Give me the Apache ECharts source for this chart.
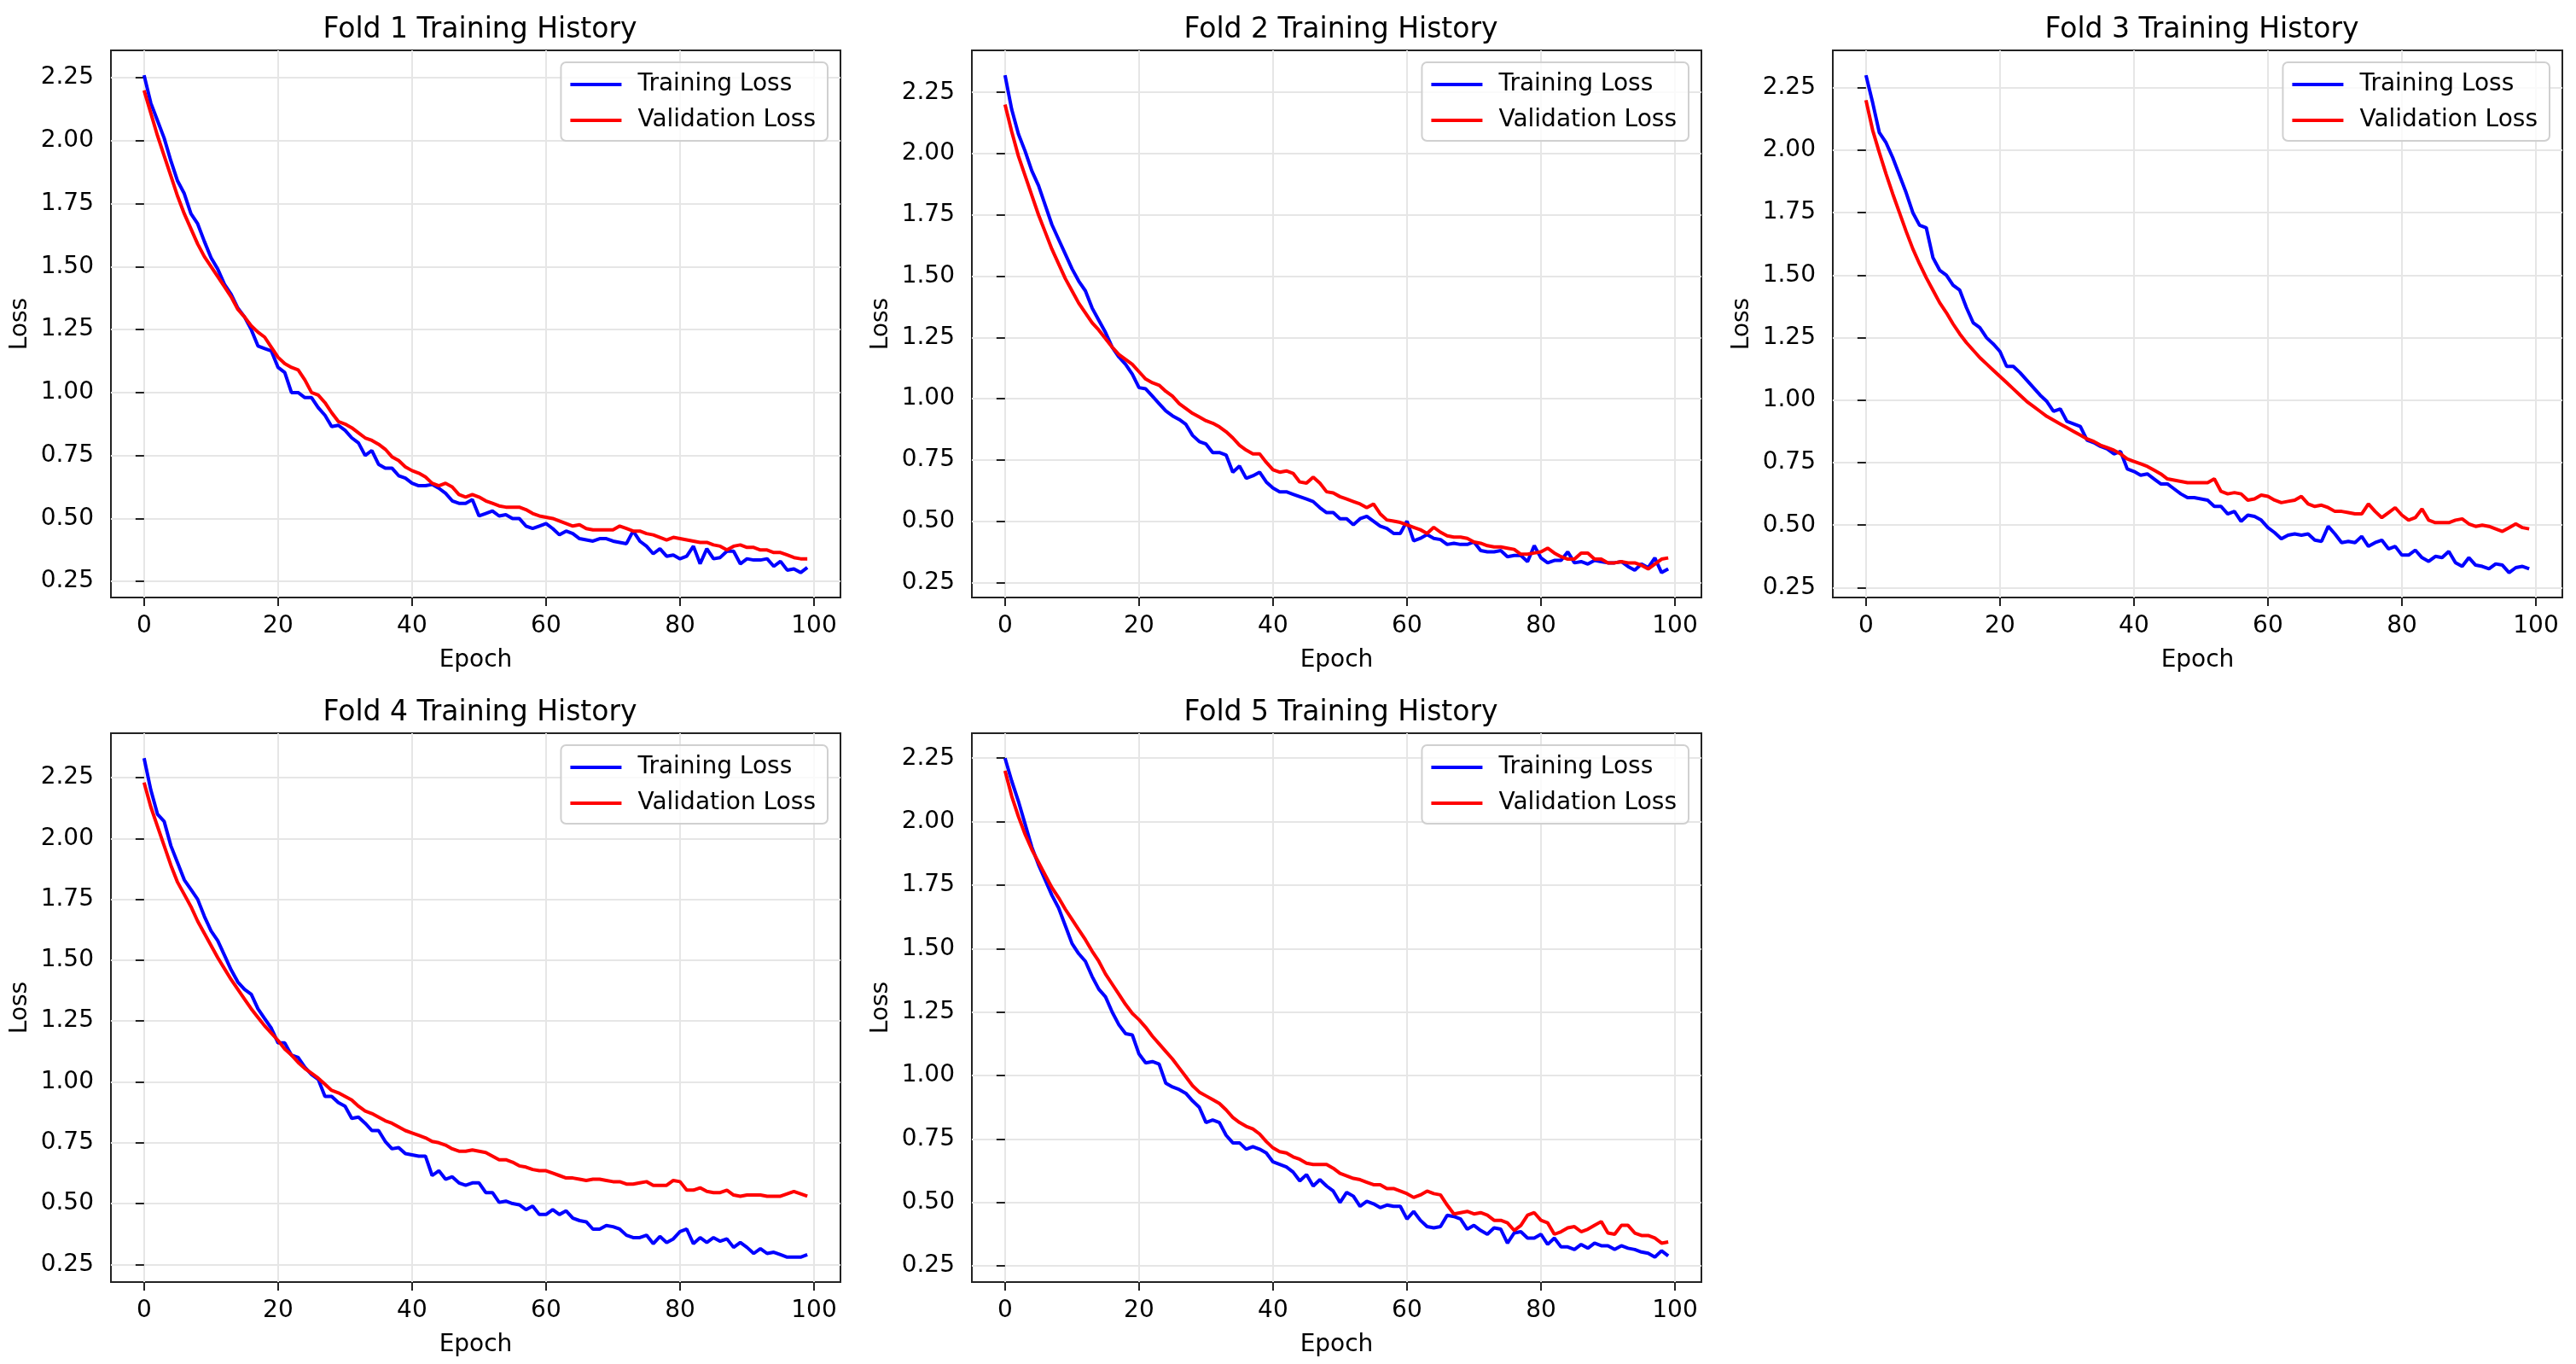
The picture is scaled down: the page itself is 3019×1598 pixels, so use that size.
<!DOCTYPE html>
<html><head><meta charset="utf-8">
<script src="https://cdn.jsdelivr.net/npm/echarts@6/dist/echarts.min.js"></script>
<style>html,body{margin:0;padding:0;background:#fff}#c{width:3019px;height:1598px}</style>
</head><body><div id="c"></div>
<script>
const epochTicks = [0, 20, 40, 60, 80, 100];
const lossTicks = [0.25, 0.5, 0.75, 1.0, 1.25, 1.5, 1.75, 2.0, 2.25];
const foldTitles = ['Fold 1 Training History','Fold 2 Training History','Fold 3 Training History','Fold 4 Training History','Fold 5 Training History'];

const fold1Train = [2.26,2.15,2.08,2.01,1.92,1.84,1.79,1.71,1.67,1.60,1.535,1.49,1.43,1.39,1.335,1.30,1.25,1.185,1.175,1.165,1.10,1.08,1.00,1.00,0.98,0.98,0.94,0.91,0.865,0.87,0.85,0.82,0.80,0.75,0.77,0.715,0.70,0.70,0.67,0.66,0.64,0.63,0.63,0.635,0.62,0.60,0.57,0.56,0.56,0.575,0.51,0.52,0.53,0.51,0.515,0.50,0.50,0.47,0.46,0.47,0.48,0.46,0.435,0.45,0.44,0.42,0.415,0.41,0.42,0.42,0.41,0.405,0.40,0.45,0.41,0.39,0.36,0.38,0.35,0.355,0.34,0.35,0.39,0.32,0.38,0.34,0.345,0.37,0.37,0.32,0.34,0.335,0.335,0.34,0.31,0.33,0.295,0.30,0.285,0.305];
const fold1Val = [2.20,2.11,2.02,1.94,1.86,1.78,1.71,1.65,1.59,1.54,1.50,1.46,1.42,1.38,1.33,1.30,1.265,1.24,1.22,1.18,1.14,1.115,1.10,1.09,1.05,1.00,0.99,0.96,0.92,0.885,0.875,0.86,0.84,0.82,0.81,0.795,0.775,0.745,0.73,0.705,0.69,0.68,0.665,0.64,0.63,0.64,0.625,0.595,0.585,0.595,0.585,0.57,0.56,0.55,0.545,0.545,0.545,0.535,0.52,0.51,0.505,0.50,0.49,0.48,0.47,0.475,0.46,0.455,0.455,0.455,0.455,0.47,0.46,0.45,0.45,0.44,0.435,0.425,0.415,0.425,0.42,0.415,0.41,0.405,0.405,0.395,0.39,0.375,0.39,0.395,0.385,0.385,0.375,0.375,0.365,0.365,0.355,0.345,0.34,0.34];
const fold2Train = [2.32,2.18,2.08,2.01,1.93,1.87,1.79,1.71,1.65,1.59,1.53,1.48,1.44,1.37,1.32,1.27,1.21,1.17,1.14,1.10,1.045,1.04,1.01,0.98,0.95,0.93,0.915,0.895,0.85,0.825,0.815,0.78,0.78,0.77,0.70,0.725,0.675,0.685,0.70,0.66,0.635,0.62,0.62,0.61,0.60,0.59,0.58,0.555,0.535,0.535,0.51,0.51,0.485,0.51,0.52,0.50,0.48,0.47,0.45,0.45,0.50,0.42,0.43,0.445,0.43,0.425,0.405,0.41,0.405,0.405,0.415,0.38,0.375,0.375,0.38,0.355,0.36,0.36,0.335,0.40,0.35,0.33,0.34,0.34,0.375,0.33,0.335,0.325,0.34,0.335,0.33,0.33,0.335,0.315,0.30,0.325,0.31,0.35,0.29,0.305];
const fold2Val = [2.20,2.09,1.99,1.91,1.83,1.75,1.68,1.61,1.55,1.49,1.44,1.39,1.35,1.31,1.28,1.245,1.21,1.18,1.16,1.14,1.11,1.08,1.065,1.055,1.03,1.01,0.98,0.96,0.94,0.925,0.91,0.90,0.885,0.865,0.84,0.81,0.79,0.775,0.775,0.74,0.71,0.70,0.705,0.695,0.66,0.655,0.68,0.655,0.62,0.615,0.60,0.59,0.58,0.57,0.555,0.57,0.53,0.505,0.50,0.495,0.485,0.475,0.465,0.45,0.475,0.455,0.44,0.435,0.435,0.43,0.415,0.41,0.40,0.395,0.395,0.39,0.385,0.365,0.365,0.37,0.375,0.39,0.37,0.355,0.345,0.345,0.37,0.37,0.345,0.345,0.33,0.33,0.335,0.33,0.33,0.32,0.305,0.325,0.345,0.35];
const fold3Train = [2.30,2.19,2.07,2.03,1.97,1.90,1.83,1.75,1.70,1.69,1.57,1.52,1.50,1.46,1.44,1.37,1.31,1.29,1.25,1.225,1.195,1.135,1.135,1.11,1.08,1.05,1.02,0.995,0.955,0.965,0.915,0.905,0.895,0.84,0.83,0.815,0.805,0.785,0.795,0.725,0.715,0.70,0.705,0.685,0.665,0.665,0.645,0.625,0.61,0.61,0.605,0.60,0.575,0.575,0.545,0.555,0.515,0.54,0.535,0.52,0.49,0.47,0.445,0.46,0.465,0.46,0.465,0.44,0.435,0.495,0.465,0.43,0.435,0.43,0.455,0.415,0.43,0.44,0.405,0.415,0.38,0.38,0.40,0.37,0.355,0.375,0.37,0.395,0.35,0.335,0.37,0.34,0.335,0.325,0.345,0.34,0.31,0.33,0.335,0.325];
const fold3Val = [2.20,2.08,1.99,1.905,1.825,1.75,1.675,1.605,1.545,1.49,1.44,1.39,1.35,1.305,1.265,1.23,1.20,1.17,1.145,1.12,1.095,1.07,1.045,1.02,0.995,0.975,0.955,0.935,0.92,0.905,0.89,0.875,0.86,0.845,0.835,0.82,0.81,0.80,0.785,0.765,0.755,0.745,0.735,0.72,0.705,0.685,0.68,0.675,0.67,0.67,0.67,0.67,0.685,0.635,0.625,0.63,0.625,0.60,0.605,0.62,0.615,0.60,0.59,0.595,0.60,0.615,0.585,0.575,0.58,0.57,0.555,0.555,0.55,0.545,0.545,0.585,0.555,0.53,0.55,0.57,0.54,0.52,0.53,0.565,0.52,0.51,0.51,0.51,0.52,0.525,0.505,0.495,0.50,0.495,0.485,0.475,0.49,0.505,0.49,0.485];
const fold4Train = [2.33,2.20,2.10,2.07,1.97,1.90,1.83,1.79,1.75,1.68,1.62,1.58,1.52,1.46,1.41,1.38,1.36,1.30,1.26,1.22,1.16,1.16,1.11,1.10,1.06,1.03,1.01,0.94,0.94,0.915,0.90,0.85,0.855,0.83,0.80,0.80,0.755,0.725,0.73,0.705,0.70,0.695,0.695,0.615,0.635,0.60,0.61,0.585,0.575,0.585,0.585,0.545,0.545,0.505,0.51,0.50,0.495,0.475,0.49,0.455,0.455,0.475,0.455,0.47,0.44,0.43,0.425,0.395,0.395,0.41,0.405,0.395,0.37,0.36,0.36,0.37,0.335,0.365,0.34,0.355,0.385,0.395,0.335,0.36,0.34,0.36,0.345,0.355,0.32,0.34,0.32,0.295,0.315,0.295,0.30,0.29,0.28,0.28,0.28,0.29];
const fold4Val = [2.23,2.13,2.05,1.97,1.89,1.82,1.77,1.72,1.66,1.61,1.56,1.51,1.465,1.42,1.38,1.34,1.30,1.265,1.23,1.20,1.17,1.135,1.11,1.08,1.055,1.035,1.015,0.99,0.965,0.955,0.94,0.925,0.90,0.88,0.87,0.855,0.84,0.83,0.815,0.80,0.79,0.78,0.77,0.755,0.75,0.74,0.725,0.715,0.715,0.72,0.715,0.71,0.695,0.68,0.68,0.67,0.655,0.65,0.64,0.635,0.635,0.625,0.615,0.605,0.605,0.60,0.595,0.60,0.60,0.595,0.59,0.59,0.58,0.58,0.585,0.59,0.575,0.575,0.575,0.595,0.59,0.555,0.555,0.565,0.55,0.545,0.545,0.555,0.535,0.53,0.535,0.535,0.535,0.53,0.53,0.53,0.54,0.55,0.54,0.53];
const fold5Train = [2.25,2.16,2.08,1.99,1.90,1.83,1.77,1.71,1.66,1.59,1.52,1.48,1.45,1.39,1.34,1.31,1.25,1.20,1.165,1.16,1.085,1.05,1.055,1.045,0.97,0.955,0.945,0.93,0.90,0.875,0.815,0.825,0.815,0.765,0.735,0.735,0.71,0.72,0.71,0.695,0.66,0.65,0.64,0.62,0.585,0.61,0.565,0.59,0.565,0.545,0.50,0.54,0.525,0.485,0.505,0.495,0.48,0.49,0.485,0.485,0.435,0.465,0.43,0.405,0.40,0.405,0.45,0.445,0.435,0.395,0.41,0.39,0.375,0.40,0.395,0.34,0.38,0.385,0.36,0.36,0.375,0.335,0.36,0.325,0.325,0.315,0.335,0.32,0.34,0.33,0.33,0.315,0.33,0.32,0.315,0.305,0.30,0.285,0.31,0.29];
const fold5Val = [2.20,2.10,2.02,1.95,1.89,1.84,1.79,1.74,1.70,1.655,1.615,1.575,1.535,1.49,1.45,1.40,1.36,1.32,1.28,1.245,1.22,1.19,1.155,1.125,1.095,1.065,1.03,0.995,0.96,0.935,0.92,0.905,0.89,0.865,0.835,0.815,0.80,0.79,0.77,0.74,0.715,0.70,0.695,0.68,0.67,0.655,0.65,0.65,0.65,0.635,0.615,0.605,0.595,0.59,0.58,0.57,0.57,0.555,0.555,0.545,0.535,0.52,0.53,0.545,0.535,0.53,0.49,0.455,0.46,0.465,0.455,0.46,0.45,0.43,0.43,0.42,0.39,0.41,0.45,0.46,0.43,0.42,0.375,0.385,0.40,0.405,0.385,0.395,0.41,0.425,0.38,0.375,0.41,0.41,0.38,0.37,0.37,0.36,0.34,0.345];

const trainSets = [fold1Train, fold2Train, fold3Train, fold4Train, fold5Train];
const valSets = [fold1Val, fold2Val, fold3Val, fold4Val, fold5Val];

const FONT = 'DejaVu Sans';
const W = 3019;
const boxes = [
  {l:130, r:985, t:59, b:700},
  {l:1139, r:1994, t:59, b:700},
  {l:2148, r:3003, t:59, b:700},
  {l:130, r:985, t:859, b:1502},
  {l:1139, r:1994, t:859, b:1502}
];

const grid = [], xAxis = [], yAxis = [], series = [], title = [], legend = [];
boxes.forEach((b, i) => {
  const tr = trainSets[i], va = valSets[i];
  const all = tr.concat(va);
  const lo = Math.min(...all), hi = Math.max(...all), m = (hi - lo) * 0.05;
  grid.push({left:b.l, top:b.t, width:b.r-b.l, height:b.b-b.t, show:true, borderColor:'#222', borderWidth:2, backgroundColor:'transparent'});
  xAxis.push({
    type:'value', gridIndex:i, min:-4.95, max:103.95,
    name:'Epoch', nameLocation:'middle', nameGap:60,
    nameTextStyle:{fontFamily:FONT, fontSize:28, color:'#000'},
    axisLine:{show:false},
    axisTick:{show:true, length:10, lineStyle:{color:'#222', width:2}, customValues:epochTicks},
    axisLabel:{fontFamily:FONT, fontSize:28, color:'#000', margin:20, customValues:epochTicks},
    splitLine:{show:true, lineStyle:{color:'#e6e6e6', width:2}}
  });
  yAxis.push({
    type:'value', gridIndex:i, min:lo - m, max:hi + m,
    name:'Loss', nameLocation:'middle', nameGap:92,
    nameTextStyle:{fontFamily:FONT, fontSize:28, color:'#000'},
    axisLine:{show:false},
    axisTick:{show:true, length:10, lineStyle:{color:'#222', width:2}, customValues:lossTicks},
    axisLabel:{fontFamily:FONT, fontSize:28, color:'#000', margin:20, customValues:lossTicks,
      formatter:v => v.toFixed(2)},
    splitLine:{show:true, lineStyle:{color:'#e6e6e6', width:2}}
  });
  title.push({text:foldTitles[i], left:(b.l+b.r)/2, top:b.t-45, textAlign:'center',
    textStyle:{fontFamily:FONT, fontSize:33, fontWeight:'normal', color:'#000'}});
  legend.push({
    data:['Training Loss','Validation Loss'], orient:'vertical',
    right: W - b.r + 15, top: b.t + 14,
    icon:'rect', itemWidth:60, itemHeight:4, itemGap:14,
    textStyle:{fontFamily:FONT, fontSize:28, color:'#000', padding:[0,0,0,14]},
    backgroundColor:'rgba(255,255,255,0.8)', borderColor:'#d0d0d0', borderWidth:2, borderRadius:6,
    padding:[12,14,10,11]
  });
  series.push({name:'Training Loss', type:'line', xAxisIndex:i, yAxisIndex:i, symbol:'none',
    data:tr.map((v, k) => [k, v]), lineStyle:{color:'#0000ff', width:4}, itemStyle:{color:'#0000ff'}, animation:false});
  series.push({name:'Validation Loss', type:'line', xAxisIndex:i, yAxisIndex:i, symbol:'none',
    data:va.map((v, k) => [k, v]), lineStyle:{color:'#ff0000', width:4}, itemStyle:{color:'#ff0000'}, animation:false});
});

const chart = echarts.init(document.getElementById('c'), null, {renderer:'canvas'});
chart.setOption({backgroundColor:'#fff', animation:false, title, legend, grid, xAxis, yAxis, series});
</script></body></html>
